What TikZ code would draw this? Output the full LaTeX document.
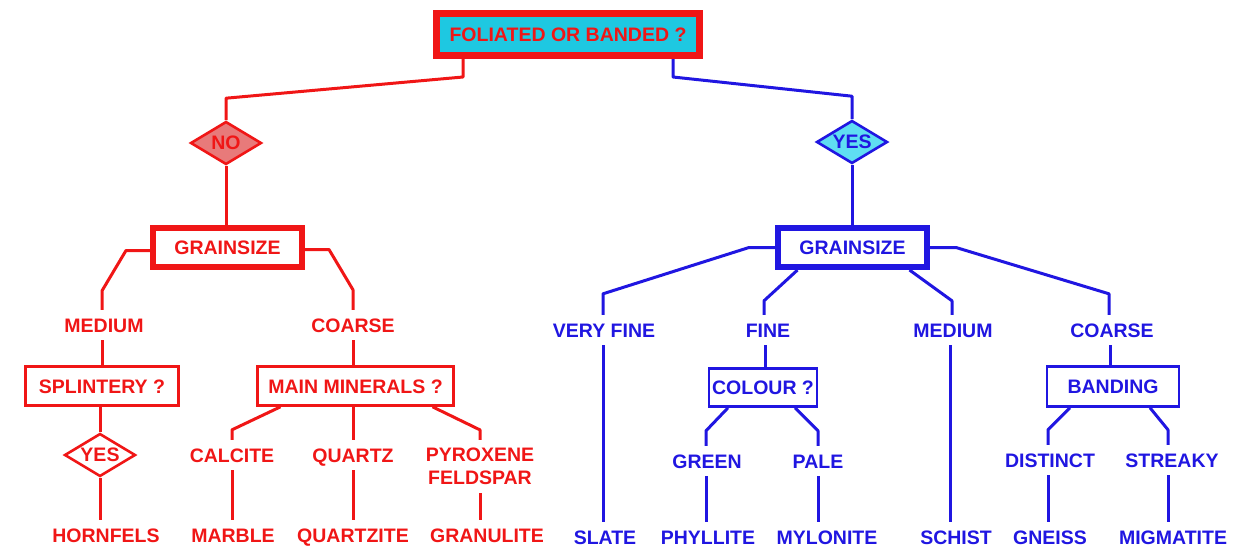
\documentclass[tikz,border=0pt]{standalone}
\usepackage{fontspec}
\setmainfont{Liberation Sans}
\usetikzlibrary{shapes.geometric,calc}
\definecolor{rd}{RGB}{240,22,22}
\definecolor{bl}{RGB}{32,22,225}
\definecolor{topfill}{RGB}{30,200,225}
\definecolor{nofill}{RGB}{232,122,122}
\definecolor{yesfill}{RGB}{95,222,242}
\tikzset{
  txt/.style={font=\fontsize{19.5}{23}\selectfont\bfseries},
  lblbase/.style={txt, inner xsep=2, inner ysep=8},
  lbl/.style={lblbase, text height=14, text depth=0},
  bigbox/.style={txt, draw, line width=6, fill=white, inner sep=0, text height=14, text depth=0},
  smallbox/.style={txt, draw, line width=2.6, fill=white, inner sep=0, text height=14, text depth=0},
  dia/.style={txt, diamond, draw, line width=2.6, aspect=2, inner sep=0, minimum width=71, minimum height=43},
  conn/.style={line width=3, line join=round},
}
\begin{document}
\begin{tikzpicture}[x=1pt,y=-1pt]
\useasboundingbox (0,0) rectangle (1250,552);
% top
\node[txt, draw=rd, line width=7, fill=topfill, text=rd, minimum width=263, minimum height=42, inner sep=0, text height=14, text depth=0] (top) at (568,34.5) {FOLIATED OR BANDED ?};
% red side
\node[dia, draw=rd, fill=nofill, text=rd] (no) at (226,143) {NO};
\node[bigbox, draw=rd, text=rd, minimum width=149, minimum height=39] (rg) at (227.5,247.5) {GRAINSIZE};
\node[lbl, text=rd] (rmed) at (104,325) {MEDIUM};
\node[lbl, text=rd] (rcoarse) at (353,325) {COARSE};
\node[smallbox, draw=rd, text=rd, minimum width=153, minimum height=39] (splint) at (102,386) {SPLINTERY ?};
\node[smallbox, draw=rd, text=rd, minimum width=196, minimum height=39] (mm) at (355.5,386) {MAIN MINERALS ?};
\node[dia, draw=rd, fill=white, text=rd] (ryes) at (100,455) {YES};
\node[lbl, text=rd] (calcite) at (232,455) {CALCITE};
\node[lbl, text=rd] (quartz) at (353,455) {QUARTZ};
\node[lblbase, text=rd, align=center] (pyr) at (480,466.5) {PYROXENE\\FELDSPAR};
\node[lbl, text=rd] (hornfels) at (106,535) {HORNFELS};
\node[lbl, text=rd] (marble) at (233,535) {MARBLE};
\node[lbl, text=rd] (quartzite) at (353,535) {QUARTZITE};
\node[lbl, text=rd] (granulite) at (487,535) {GRANULITE};
% blue side
\node[dia, draw=bl, fill=yesfill, text=bl] (yes) at (852,142) {YES};
\node[bigbox, draw=bl, text=bl, minimum width=149, minimum height=39] (bg) at (852.5,247.5) {GRAINSIZE};
\node[lbl, text=bl] (vfine) at (604,330) {VERY FINE};
\node[lbl, text=bl] (fine) at (768,330) {FINE};
\node[lbl, text=bl] (bmed) at (953,330) {MEDIUM};
\node[lbl, text=bl] (bcoarse) at (1112,330) {COARSE};
\node[smallbox, draw=bl, text=bl, minimum width=108, minimum height=38] (colour) at (763,387.5) {COLOUR ?};
\node[smallbox, draw=bl, text=bl, minimum width=132, minimum height=40] (banding) at (1113,386.5) {BANDING};
\node[lbl, text=bl] (green) at (707,461) {GREEN};
\node[lbl, text=bl] (pale) at (818,461) {PALE};
\node[lbl, text=bl] (distinct) at (1050,460) {DISTINCT};
\node[lbl, text=bl] (streaky) at (1172,460) {STREAKY};
\node[lbl, text=bl] (slate) at (605,537) {SLATE};
\node[lbl, text=bl] (phyllite) at (708,537) {PHYLLITE};
\node[lbl, text=bl] (mylonite) at (827,537) {MYLONITE};
\node[lbl, text=bl] (schist) at (956,537) {SCHIST};
\node[lbl, text=bl] (gneiss) at (1050,537) {GNEISS};
\node[lbl, text=bl] (migmatite) at (1173,537) {MIGMATITE};
% red connectors
\begin{scope}[conn, draw=rd]
\draw ([xshift=-105]top.south) -- ++(0,18) -- ($(no.north)+(0,-22)$) -- (no.north);
\draw (no.south) -- (rg.north -| no.south);
\draw ([yshift=-3]rg.west) -- ++(-24,0) -- ($(rmed.north)+(-2,-19)$) -- ($(rmed.north)+(-2,0)$);
\draw ([yshift=-2]rg.east) -- ++(24,0) -- ($(rcoarse.north)+(0,-20)$) -- (rcoarse.north);
\draw ($(rmed.south)+(-2,0)$) -- (splint.north);
\draw (rcoarse.south) -- (rcoarse.south |- mm.north);
\draw (splint.south -| ryes.north) -- (ryes.north);
\draw (ryes.south) -- (ryes.south |- hornfels.north);
\draw ([xshift=-75]mm.south) -- ($(calcite.north)+(0,-10)$) -- (calcite.north);
\draw (quartz.north |- mm.south) -- (quartz.north);
\draw ([xshift=77]mm.south) -- ($(pyr.north)+(0,-10)$) -- (pyr.north);
\draw (calcite.south) -- (calcite.south |- marble.north);
\draw (quartz.south) -- (quartz.south |- quartzite.north);
\draw (pyr.south) -- (pyr.south |- granulite.north);
\end{scope}
% blue connectors
\begin{scope}[conn, draw=bl]
\draw ([xshift=105]top.south) -- ++(0,18) -- ($(yes.north)+(0,-23)$) -- (yes.north);
\draw (yes.south) -- (bg.north -| yes.south);
\draw (bg.west) -- ++(-26,0) -- ($(vfine.north)+(-1,-21)$) -- ($(vfine.north)+(-1,0)$);
\draw ([xshift=-55]bg.south) -- ($(fine.north)+(-4,-14)$) -- ($(fine.north)+(-4,0)$);
\draw ([xshift=57]bg.south) -- ($(bmed.north)+(-1,-14)$) -- ($(bmed.north)+(-1,0)$);
\draw (bg.east) -- ++(26,0) -- ($(bcoarse.north)+(-3,-21)$) -- ($(bcoarse.north)+(-3,0)$);
\draw ($(vfine.south)+(-1,0)$) -- ($(vfine.south |- slate.north)+(-1,0)$);
\draw ($(fine.south)+(-3,0)$) -- ($(fine.south |- colour.north)+(-3,0)$);
\draw ($(bmed.south)+(-3,0)$) -- ($(bmed.south |- schist.north)+(-3,0)$);
\draw ($(bcoarse.south)+(-2,0)$) -- ($(bcoarse.south |- banding.north)+(-2,0)$);
\draw ([xshift=-35]colour.south) -- ($(green.north)+(-1,-15)$) -- ($(green.north)+(-1,0)$);
\draw ([xshift=32]colour.south) -- ($(pale.north)+(0,-15)$) -- (pale.north);
\draw ([xshift=-43]banding.south) -- ($(distinct.north)+(-2,-15)$) -- ($(distinct.north)+(-2,0)$);
\draw ([xshift=37]banding.south) -- ($(streaky.north)+(-4,-15)$) -- ($(streaky.north)+(-4,0)$);
\draw ($(green.south)+(-1,0)$) -- ($(green.south |- phyllite.north)+(-1,0)$);
\draw (pale.south) -- (pale.south |- mylonite.north);
\draw ($(distinct.south)+(-2,0)$) -- ($(distinct.south |- gneiss.north)+(-2,0)$);
\draw ($(streaky.south)+(-4,0)$) -- ($(streaky.south |- migmatite.north)+(-4,0)$);
\end{scope}
\end{tikzpicture}
\end{document}
